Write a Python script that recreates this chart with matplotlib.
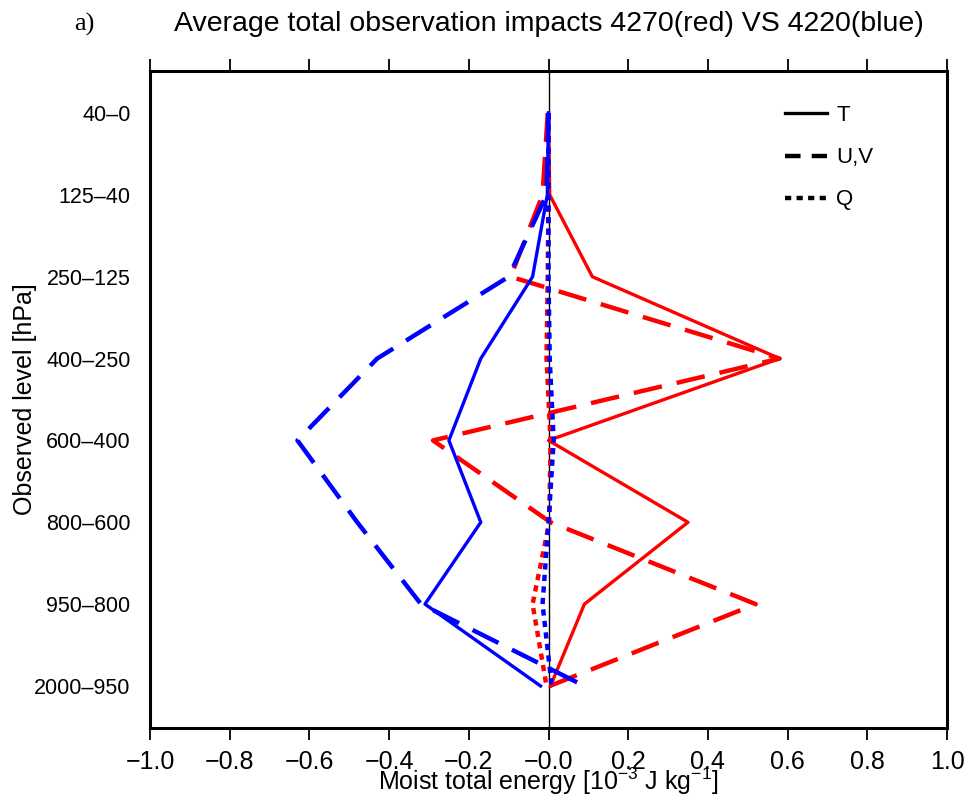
import matplotlib
matplotlib.use('Agg')
import matplotlib.pyplot as plt
from matplotlib.lines import Line2D
import numpy as np

plt.rcParams['font.family'] = ['Liberation Sans', 'DejaVu Sans']
plt.rcParams['mathtext.fontset'] = 'custom'
plt.rcParams['mathtext.rm'] = 'Liberation Sans'
plt.rcParams['mathtext.it'] = 'Liberation Sans:italic'

# observed pressure layers, top of the atmosphere first
levels = ['40\u20130', '125\u201340', '250\u2013125', '400\u2013250',
          '600\u2013400', '800\u2013600', '950\u2013800', '2000\u2013950']

# 4270 (red)
red_t = [0.0, 0.003, 0.11, 0.58, 0.0, 0.35, 0.09, 0.005]
red_uv = [-0.002, -0.015, -0.095, 0.58, -0.29, 0.005, 0.52, 0.003]
red_q = [0.0, 0.0, -0.002, -0.005, 0.005, 0.002, -0.04, -0.005]

# 4220 (blue)
blue_t = [0.0, -0.003, -0.04, -0.17, -0.25, -0.17, -0.31, -0.02]
blue_uv = [0.0, -0.005, -0.10, -0.43, -0.63, -0.48, -0.32, 0.09]
blue_q = [0.0, 0.0, 0.0, 0.003, 0.013, 0.0, -0.015, 0.008]

xticks = np.arange(-1.0, 1.01, 0.2)

y = np.arange(len(levels))

fig = plt.figure(figsize=(9.71, 7.99), dpi=100)
ax = fig.add_axes([0.1545, 0.0889, 0.8208, 0.8222])

ax.axvline(0, color='black', lw=1.0, zorder=1)

dash_uv = (6.5, 3.4)
dash_q = (1.4, 1.2)
for col, t, uv, q in [('#ff0000', red_t, red_uv, red_q),
                      ('#0000ff', blue_t, blue_uv, blue_q)]:
    ax.plot(t, y, color=col, lw=2.4, zorder=2)
    ax.plot(uv, y, color=col, lw=3.2, dashes=dash_uv, zorder=2)
    ax.plot(q, y, color=col, lw=3.2, dashes=dash_q, zorder=2)

ax.set_xlim(-1.0, 1.0)
ax.set_ylim(7.513, -0.513)
ax.set_xticks(xticks)
ax.set_xticklabels([f'{v:.1f}'.replace('-', '\u2212') for v in xticks])
ax.set_yticks(y)
ax.set_yticklabels(levels)

ax.tick_params(axis='x', direction='out', top=True, length=8.5, width=1.3,
               labelsize=18, pad=7.5)
ax.tick_params(axis='y', length=0, labelsize=15.5, pad=14)
for sp in ax.spines.values():
    sp.set_linewidth(2.2)

ax.set_xlabel(r'Moist total energy [10$^{-3}$ J kg$^{-1}$]', fontsize=18)
ax.xaxis.set_label_coords(0.5, -0.058)
ax.set_ylabel('Observed level [hPa]', fontsize=18)
ax.yaxis.set_label_coords(-0.142, 0.5)

handles = [Line2D([], [], color='black', lw=2.4),
           Line2D([], [], color='black', lw=3.2, dashes=(3.5, 2.5)),
           Line2D([], [], color='black', lw=3.2, dashes=dash_q)]
ax.legend(handles, ['T', 'U,V', 'Q'], loc='upper left',
          bbox_to_anchor=(0.797, 0.948), frameon=False, fontsize=16,
          handlelength=1.9, handletextpad=0.4, labelspacing=0.95,
          borderpad=0, borderaxespad=0)

fig.text(0.5654, 0.970, 'Average total observation impacts 4270(red) VS 4220(blue)',
         fontsize=20.5, ha='center', va='center')
fig.text(0.0865, 0.969, 'a)', fontsize=19, ha='center', va='center',
         family='Liberation Serif')

fig.savefig('out.png', dpi=100)
